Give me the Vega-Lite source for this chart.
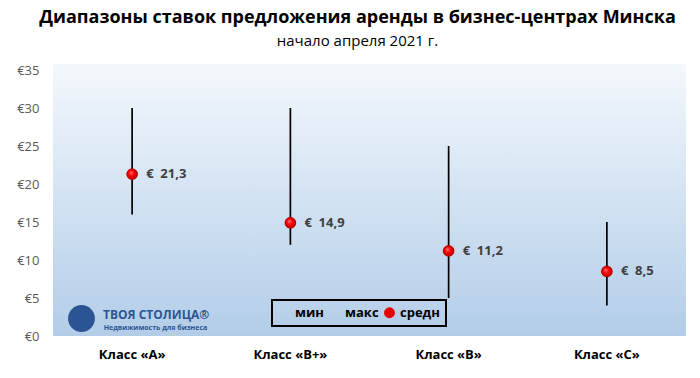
{
  "$schema": "https://vega.github.io/schema/vega-lite/v6.json",
  "width": 633,
  "height": 266,
  "autosize": {"type": "none"},
  "padding": {"left": 53, "top": 70, "right": 14, "bottom": 42},
  "background": "white",
  "config": {
    "font": "Open Sans",
    "view": {"stroke": null},
    "locale": {
      "number": {"decimal": ",", "thousands": " ", "grouping": [3], "currency": ["€\u00a0 ", ""]}
    },
    "axisX": {"labelAngle": 0, "labelFontWeight": "bold", "labelColor": "black", "labelFontSize": 13, "ticks": false, "domain": false, "labelPadding": 12, "grid": false},
    "axisY": {"labelColor": "#595959", "labelFontSize": 13, "ticks": false, "domain": false, "grid": false, "labelPadding": 14, "labelOverlap": false}
  },
  "title": {
    "text": "Диапазоны ставок предложения аренды в бизнес-центрах Минска",
    "subtitle": "начало апреля 2021 г.",
    "fontSize": 18,
    "fontWeight": "bold",
    "color": "black",
    "subtitleFontSize": 15,
    "subtitleColor": "black",
    "subtitleFont": "Open Sans",
    "anchor": "middle",
    "frame": "group",
    "offset": 15,
    "dx": -12,
    "subtitlePadding": 7
  },
  "datasets": {
    "ranges": [
      {"cls": "Класс «А»", "min": 16, "max": 30, "avg": 21.3},
      {"cls": "Класс «В+»", "min": 12, "max": 30, "avg": 14.9},
      {"cls": "Класс «В»", "min": 5, "max": 25, "avg": 11.2},
      {"cls": "Класс «С»", "min": 4, "max": 15, "avg": 8.5}
    ],
    "brand": [
      {"name": "ТВОЯ СТОЛИЦА®", "tagline": "Недвижимость для бизнеса"}
    ]
  },
  "layer": [
    {
      "data": {"values": [{}]},
      "mark": {
        "type": "rect",
        "color": {
          "gradient": "linear", "x1": 0, "y1": 0, "x2": 0, "y2": 1,
          "stops": [
            {"offset": 0, "color": "#f4f8fc"},
            {"offset": 0.5, "color": "#d2e2f2"},
            {"offset": 1, "color": "#b3cde8"}
          ]
        }
      },
      "encoding": {
        "y": {"datum": 0, "type": "quantitative", "scale": {"domain": [0, 35], "nice": false}, "title": null,
              "axis": {"values": [0, 5, 10, 15, 20, 25, 30, 35], "labelExpr": "'€' + datum.value", "labelOverlap": false, "tickCount": 8}},
        "y2": {"datum": 35.8}
      }
    },
    {
      "data": {"name": "ranges"},
      "mark": {"type": "rule", "color": "black", "strokeWidth": 1.7},
      "encoding": {
        "x": {"field": "cls", "type": "nominal", "sort": null, "title": null},
        "y": {"field": "min", "type": "quantitative", "title": null, "axis": {"values": [0, 5, 10, 15, 20, 25, 30, 35], "labelExpr": "'€' + datum.value", "labelOverlap": false, "tickCount": 8}},
        "y2": {"field": "max"}
      }
    },
    {
      "data": {"name": "brand"},
      "mark": {"type": "point", "filled": true, "size": 720, "color": "#2b5592", "opacity": 1, "clip": true},
      "encoding": {
        "x": {"datum": "Класс «А»", "type": "nominal", "bandPosition": 0.18, "title": null},
        "y": {"datum": 2.3, "type": "quantitative", "title": null}
      }
    },
    {
      "data": {"name": "brand"},
      "mark": {"type": "text", "align": "left", "baseline": "middle", "fontSize": 12, "fontWeight": "bold", "color": "#2b5592"},
      "encoding": {
        "x": {"datum": "Класс «А»", "type": "nominal", "bandPosition": 0.316, "title": null},
        "y": {"datum": 2.75, "type": "quantitative", "title": null},
        "text": {"field": "name"}
      }
    },
    {
      "data": {"name": "brand"},
      "mark": {"type": "text", "align": "left", "baseline": "middle", "fontSize": 7, "fontWeight": "bold", "color": "#2b5592"},
      "encoding": {
        "x": {"datum": "Класс «А»", "type": "nominal", "bandPosition": 0.32, "title": null},
        "y": {"datum": 1.05, "type": "quantitative", "title": null},
        "text": {"field": "tagline"}
      }
    },
    {
      "data": {"name": "ranges"},
      "mark": {"type": "point", "filled": true, "size": 120, "opacity": 1},
      "encoding": {
        "x": {"field": "cls", "type": "nominal", "sort": null, "title": null},
        "y": {"field": "avg", "type": "quantitative", "title": null},
        "color": {
          "datum": "средн",
          "type": "nominal",
          "scale": {"domain": ["мин", "макс", "средн"], "range": ["rgba(0,0,0,0)", "rgba(0,0,0,0)", "#e60000"]},
          "legend": {
            "orient": "none", "legendX": 219, "legendY": 230, "direction": "horizontal", "title": null,
            "labelFontSize": 13, "labelFontWeight": "bold", "labelColor": "black", "labelFont": "Open Sans",
            "symbolType": "circle", "symbolSize": 120, "symbolOpacity": 1, "strokeColor": "black",
            "padding": 6, "columnPadding": 4, "labelOffset": 4,
            "encode": {"legend": {"update": {"strokeWidth": {"value": 2}}}}
          }
        }
      }
    },
    {
      "data": {"name": "ranges"},
      "mark": {
        "type": "point", "filled": true, "size": 120, "opacity": 1,
        "fill": {
          "gradient": "radial", "x1": 0.38, "y1": 0.35, "r1": 0, "x2": 0.5, "y2": 0.5, "r2": 0.55,
          "stops": [
            {"offset": 0, "color": "#ff8080"},
            {"offset": 0.45, "color": "#ff0000"},
            {"offset": 1, "color": "#b00000"}
          ]
        },
        "stroke": "#a00000",
        "strokeWidth": 0.5
      },
      "encoding": {
        "x": {"field": "cls", "type": "nominal", "sort": null, "title": null},
        "y": {"field": "avg", "type": "quantitative", "title": null}
      }
    },
    {
      "data": {"name": "ranges"},
      "mark": {"type": "text", "align": "left", "baseline": "middle", "dx": 14, "fontSize": 13, "fontWeight": "bold", "color": "#404040"},
      "encoding": {
        "x": {"field": "cls", "type": "nominal", "sort": null, "title": null},
        "y": {"field": "avg", "type": "quantitative", "title": null},
        "text": {"field": "avg", "type": "quantitative", "format": "$.1f"}
      }
    }
  ]
}
